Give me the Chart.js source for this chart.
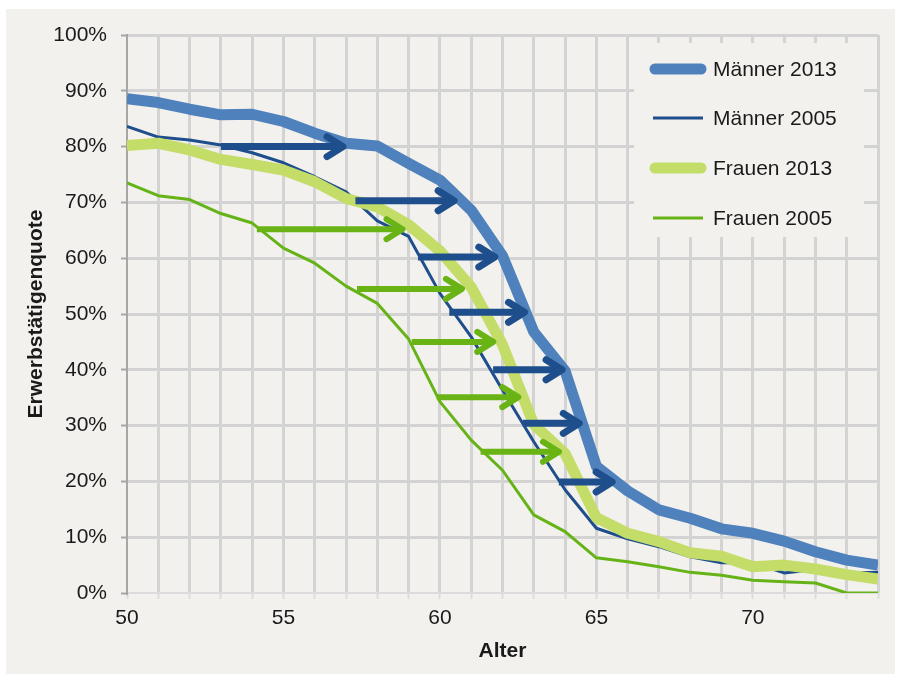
<!DOCTYPE html>
<html>
<head>
<meta charset="utf-8">
<script src="https://cdn.jsdelivr.net/npm/chart.js@4.4.1/dist/chart.umd.min.js"></script>
<style>
  html, body { margin: 0; padding: 0; background: #ffffff; }
  #wrap { position: relative; width: 902px; height: 674px; }
</style>
</head>
<body>
<div id="wrap"><canvas id="chart" width="902" height="674"></canvas></div>
<script>
// Alter (x) and Erwerbstätigenquote in % (y)
const ages = [50, 51, 52, 53, 54, 55, 56, 57, 58, 59, 60, 61, 62, 63, 64, 65, 66, 67, 68, 69, 70, 71, 72, 73, 74];
const maenner2013 = [88.6, 87.9, 86.7, 85.7, 85.8, 84.5, 82.4, 80.6, 80.1, 77.0, 74.0, 68.6, 60.4, 46.8, 39.8, 22.7, 18.3, 14.9, 13.4, 11.5, 10.7, 9.3, 7.4, 5.9, 5.0];
const maenner2005 = [83.6, 81.7, 81.2, 80.3, 78.9, 77.1, 74.6, 71.9, 66.7, 63.9, 53.7, 45.9, 36.4, 27.1, 18.5, 11.6, 9.7, 8.3, 6.5, 5.4, 5.4, 3.6, 4.2, 3.6, 3.7];
const frauen2013 = [80.2, 80.6, 79.4, 77.7, 76.8, 75.8, 73.7, 70.7, 69.2, 66.0, 61.3, 54.8, 44.5, 30.2, 25.0, 13.5, 10.7, 9.2, 7.2, 6.6, 4.7, 5.0, 4.3, 3.3, 2.5];
const frauen2005 = [73.5, 71.2, 70.5, 68.0, 66.3, 61.8, 59.1, 55.0, 51.9, 45.5, 34.3, 27.4, 22.0, 14.0, 11.0, 6.3, 5.6, 4.7, 3.7, 3.2, 2.3, 2.0, 1.8, 0.0, 0.0];

// Pfeile: Verschiebung von 2005 nach 2013 (Höhe in %, Start- und Endalter)
const maennerPfeilY     = [80.0, 70.3, 60.2, 50.3, 40.0, 30.4, 19.9];
const maennerPfeilStart = [53.0, 57.3, 59.3, 60.3, 61.7, 62.65, 63.8];
const maennerPfeilEnde  = [57.0, 60.55, 61.85, 62.8, 64.0, 64.55, 65.6];
const frauenPfeilY      = [65.2, 54.5, 45.0, 35.1, 25.3];
const frauenPfeilStart  = [54.15, 57.35, 59.1, 59.9, 61.3];
const frauenPfeilEnde   = [58.9, 60.8, 61.8, 62.6, 63.9];

const yTicks = [0, 10, 20, 30, 40, 50, 60, 70, 80, 90, 100];

const BG = '#f2f1ed';
const GRID = '#d3d3d3';
const FONT = '"Liberation Sans", Arial, sans-serif';
const TEXT = '#1a1a1a';

const toPoints = vals => ages.map((a, i) => ({ x: a, y: vals[i] }));

const backgroundPlugin = {
    id: 'background',
    beforeDraw(chart) {
        const ctx = chart.ctx;
        ctx.save();
        ctx.fillStyle = '#ffffff';
        ctx.fillRect(0, 0, chart.width, chart.height);
        ctx.fillStyle = BG;
        ctx.fillRect(6, 9, 889, 665);
        ctx.restore();
    }
};

function drawArrow(ctx, x1, x2, y, color, w) {
    ctx.strokeStyle = color;
    ctx.lineWidth = w;
    ctx.lineCap = 'butt';
    ctx.beginPath();
    ctx.moveTo(x1, y);
    ctx.lineTo(x2 - 4, y);
    ctx.stroke();
    ctx.lineCap = 'round';
    ctx.lineJoin = 'round';
    ctx.beginPath();
    ctx.moveTo(x2 - 19, y - 10);
    ctx.lineTo(x2 - 3, y);
    ctx.lineTo(x2 - 19, y + 10);
    ctx.stroke();
}

const arrowPlugin = {
    id: 'arrows',
    afterDatasetsDraw(chart) {
        const ctx = chart.ctx;
        const xs = chart.scales.x, ys = chart.scales.y;
        ctx.save();
        frauenPfeilY.forEach((v, i) => {
            drawArrow(ctx, xs.getPixelForValue(frauenPfeilStart[i]), xs.getPixelForValue(frauenPfeilEnde[i]),
                ys.getPixelForValue(v), '#69b414', 6);
        });
        maennerPfeilY.forEach((v, i) => {
            drawArrow(ctx, xs.getPixelForValue(maennerPfeilStart[i]), xs.getPixelForValue(maennerPfeilEnde[i]),
                ys.getPixelForValue(v), '#1f4e8c', 7);
        });
        ctx.restore();
    }
};

const legendPlugin = {
    id: 'boxLegend',
    afterDatasetsDraw(chart) {
        const ctx = chart.ctx;
        ctx.save();
        ctx.fillStyle = BG;
        ctx.fillRect(634, 43, 230, 194);
        const rows = [69, 118, 168, 218];
        chart.data.datasets.forEach((ds, i) => {
            const y = rows[i];
            ctx.strokeStyle = ds.borderColor;
            ctx.lineWidth = ds.borderWidth;
            ctx.lineCap = ds.borderWidth > 5 ? 'round' : 'butt';
            ctx.beginPath();
            if (ds.borderWidth > 5) {
                ctx.moveTo(655, y); ctx.lineTo(701, y);
            } else {
                ctx.moveTo(653, y); ctx.lineTo(703, y);
            }
            ctx.stroke();
            ctx.fillStyle = TEXT;
            ctx.font = '21px ' + FONT;
            ctx.textBaseline = 'middle';
            ctx.textAlign = 'left';
            ctx.fillText(ds.label, 713, y + 1);
        });
        ctx.restore();
    }
};

const lineDefaults = { pointRadius: 0, tension: 0, borderJoinStyle: 'round', fill: false };

new Chart(document.getElementById('chart').getContext('2d'), {
    type: 'line',
    data: {
        datasets: [
            { ...lineDefaults, label: 'Männer 2013', data: toPoints(maenner2013), borderColor: '#4f81bd', borderWidth: 11, order: 0 },
            { ...lineDefaults, label: 'Männer 2005', data: toPoints(maenner2005), borderColor: '#1f4e8c', borderWidth: 3, order: 2 },
            { ...lineDefaults, label: 'Frauen 2013', data: toPoints(frauen2013), borderColor: '#c4dc68', borderWidth: 11, order: 1 },
            { ...lineDefaults, label: 'Frauen 2005', data: toPoints(frauen2005), borderColor: '#66b318', borderWidth: 3, order: 3 }
        ]
    },
    options: {
        responsive: false,
        animation: false,
        layout: { padding: { left: 0, right: 24, top: 35, bottom: 0 } },
        plugins: { legend: { display: false }, tooltip: { enabled: false } },
        scales: {
            x: {
                type: 'linear',
                min: 50,
                max: 74,
                afterFit: s => { s.height = 81; },
                afterBuildTicks: s => { s.ticks = ages.map(a => ({ value: a })); },
                ticks: {
                    autoSkip: false,
                    maxRotation: 0,
                    padding: 7,
                    color: TEXT,
                    font: { family: FONT, size: 21 },
                    callback: v => (v % 5 === 0 && v < 74 ? String(v) : '')
                },
                grid: {
                    color: ctx => (ctx.tick && ctx.tick.value === 50 ? 'rgba(0,0,0,0)' : GRID),
                    lineWidth: 3,
                    tickColor: '#dcdcdc',
                    tickLength: 6,
                    tickWidth: 2
                },
                border: { color: '#dcdcdc', width: 2 },
                title: {
                    display: true,
                    text: 'Alter',
                    color: TEXT,
                    font: { family: FONT, size: 21, weight: 'bold' },
                    padding: { top: 0, bottom: 10 }
                }
            },
            y: {
                min: 0,
                max: 100,
                afterFit: s => { s.width = 127; },
                afterBuildTicks: s => { s.ticks = yTicks.map(v => ({ value: v })); },
                ticks: {
                    padding: 14,
                    color: TEXT,
                    font: { family: FONT, size: 21 },
                    callback: v => v + '%'
                },
                grid: {
                    color: ctx => (ctx.tick && ctx.tick.value === 0 ? 'rgba(0,0,0,0)' : GRID),
                    lineWidth: 3,
                    tickColor: '#a6a6a6',
                    tickLength: 6,
                    tickWidth: 2
                },
                border: { color: '#a6a6a6', width: 2 },
                title: {
                    display: true,
                    text: 'Erwerbstätigenquote',
                    color: TEXT,
                    font: { family: FONT, size: 21, weight: 'bold' },
                    padding: { top: 24, bottom: 0 }
                }
            }
        }
    },
    plugins: [backgroundPlugin, arrowPlugin, legendPlugin]
});
</script>
</body>
</html>
